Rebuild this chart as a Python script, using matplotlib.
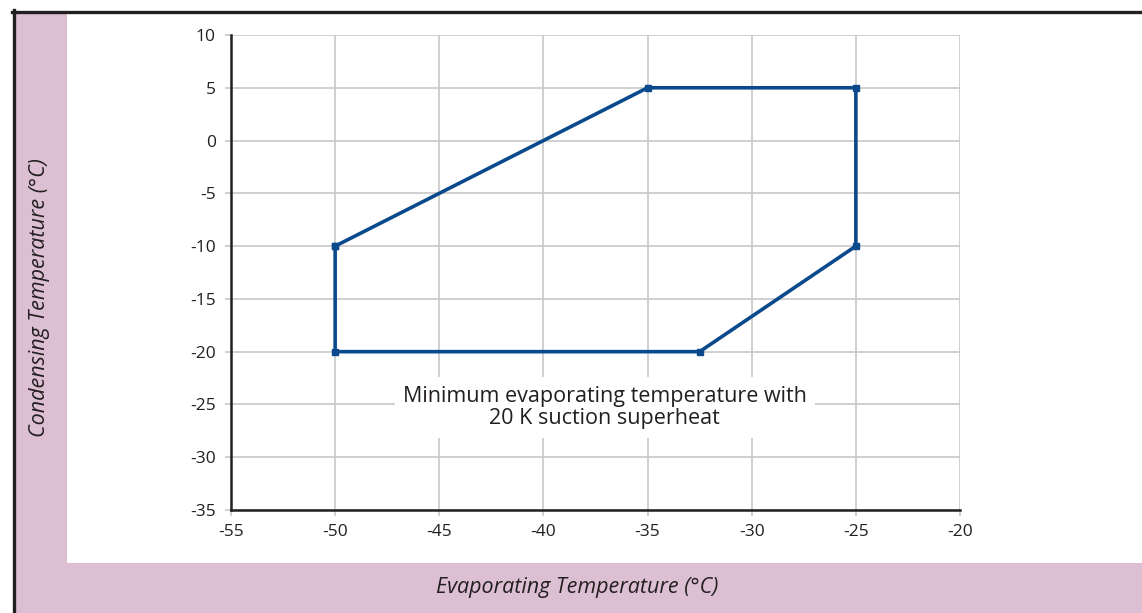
import matplotlib.pyplot as plt
from matplotlib.patches import Rectangle
from matplotlib.lines import Line2D

# envelope points (evaporating, condensing)
evap = [-50, -35, -25, -25, -32.5, -50, -50]
cond = [-10, 5, 5, -10, -20, -20, -10]
xticks = [-55, -50, -45, -40, -35, -30, -25, -20]
yticks = [10, 5, 0, -5, -10, -15, -20, -25, -30, -35]
note = 'Minimum evaporating temperature with\n20 K suction superheat'

W, H = 1142, 613
pink = '#dcbfd2'
dark = '#231f20'
blue = '#0a4a8c'

plt.rcParams['font.family'] = ['Open Sans', 'DejaVu Sans']
plt.rcParams['axes.unicode_minus'] = False

fig = plt.figure(figsize=(W / 100, H / 100), dpi=100)

# background bands and frame
fig.patches.append(Rectangle((15 / W, 0), 52 / W, 1 - 13 / H, transform=fig.transFigure,
                             facecolor=pink, edgecolor='none', zorder=0))
fig.patches.append(Rectangle((15 / W, 0), 1 - 15 / W, 50 / H, transform=fig.transFigure,
                             facecolor=pink, edgecolor='none', zorder=0))
fig.lines.append(Line2D([12 / W, 1], [1 - 11.5 / H, 1 - 11.5 / H], transform=fig.transFigure,
                        color=dark, lw=2.4))
fig.lines.append(Line2D([13.5 / W, 13.5 / W], [0, 1 - 10 / H], transform=fig.transFigure,
                        color=dark, lw=2.4))

ax = fig.add_axes([231 / W, 1 - 510 / H, (960 - 231) / W, (510 - 35) / H])
ax.set_xlim(-55, -20)
ax.set_ylim(-35, 10)
ax.set_xticks(xticks)
ax.set_yticks(yticks)
ax.grid(True, color='#c8c8c8', lw=1.2)
ax.set_axisbelow(True)
for s in ['top', 'right']:
    ax.spines[s].set_visible(False)
for s in ['left', 'bottom']:
    ax.spines[s].set_color(dark)
    ax.spines[s].set_linewidth(1.8)
ax.tick_params(axis='both', direction='out', length=4, width=1.2, color='#c8c8c8',
               labelsize=12.5, labelcolor=dark)
ax.tick_params(axis='y', pad=7)
ax.tick_params(axis='x', pad=6)

ax.plot(evap, cond, color=blue, lw=2.6, marker='s', markersize=5, zorder=3)

ax.text(-37.05, -25.3, note, ha='center', va='center', fontsize=15.5, color=dark,
        linespacing=1.1,
        bbox=dict(facecolor='white', edgecolor='none', pad=6))

fig.text(40 / W, 1 - 298 / H, 'Condensing Temperature (°C)', rotation=90, ha='center',
         va='center', fontsize=15.5, style='italic', color=dark)
fig.text(577 / W, 1 - 588 / H, 'Evaporating Temperature (°C)', ha='center', va='center',
         fontsize=15.5, style='italic', color=dark)

fig.savefig('out.png', dpi=100)
